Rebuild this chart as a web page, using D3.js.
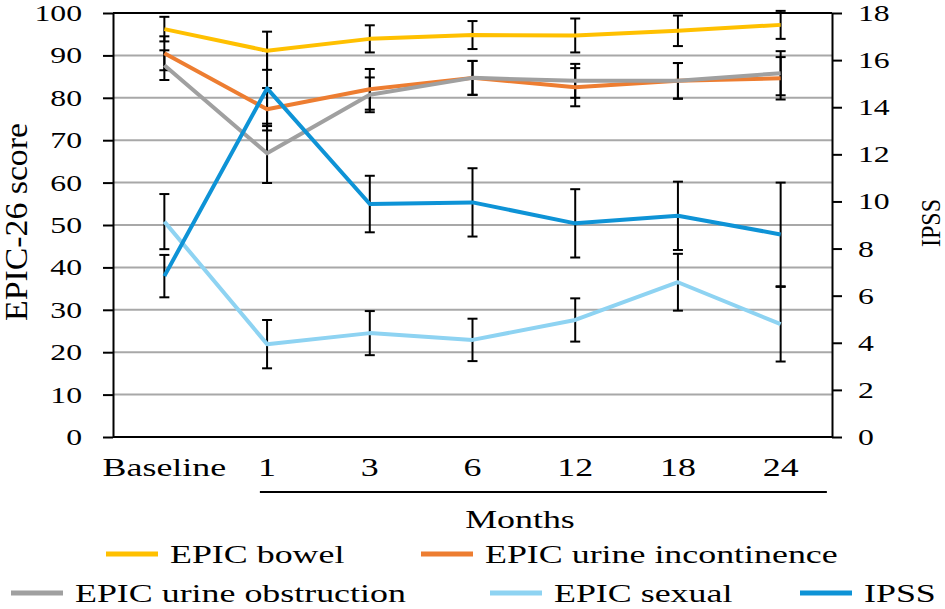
<!DOCTYPE html>
<html>
<head>
<meta charset="utf-8">
<script src="https://cdn.jsdelivr.net/npm/d3@7"></script>
<style>
body { margin: 0; background: #fff; }
text { font-family: "Liberation Serif", serif; fill: #000; }
</style>
</head>
<body>
<script>
// data
var months = ["Baseline", "1", "3", "6", "12", "18", "24"];
var epicTicks = [0, 10, 20, 30, 40, 50, 60, 70, 80, 90, 100];
var ipssTicks = [0, 2, 4, 6, 8, 10, 12, 14, 16, 18];

var bowel = [96.2, 91.1, 93.9, 94.8, 94.7, 95.8, 97.2];
var bowelErr = [2.9, 4.5, 3.2, 3.3, 4.0, 3.6, 3.3];
var incontinence = [90.5, 77.3, 82.0, 84.7, 82.5, 84.0, 84.6];
var incontinenceErr = [4.0, 5.0, 4.8, 4.0, 4.5, 4.2, 5.0];
var obstruction = [87.7, 66.9, 80.7, 84.7, 84.0, 84.0, 85.8];
var obstructionErr = [3.5, 7.0, 4.1, 4.0, 4.0, 4.2, 5.2];
var sexual = [50.8, 21.9, 24.5, 22.9, 27.6, 36.5, 26.6];
var sexualErr = [6.5, 5.7, 5.2, 5.0, 5.1, 6.7, 8.8];
var ipss = [6.83, 14.8, 9.89, 9.96, 9.07, 9.39, 8.6];
var ipssErr = [0.9, 1.6, 1.2, 1.45, 1.45, 1.45, 2.2];

var svg = d3.select('body').append('svg')
    .attr('width', 945)
    .attr('height', 609);

var x = d3.scalePoint().domain(months).range([113, 832]).padding(0.5);
var yL = d3.scaleLinear().domain([0, 100]).range([437, 13]);
var yR = d3.scaleLinear().domain([0, 18]).range([437, 13]);

var series = [
    {name: 'EPIC bowel', v: bowel, e: bowelErr, color: '#FFC000', y: yL},
    {name: 'EPIC urine incontinence', v: incontinence, e: incontinenceErr, color: '#ED7D31', y: yL},
    {name: 'EPIC urine obstruction', v: obstruction, e: obstructionErr, color: '#A0A0A0', y: yL},
    {name: 'EPIC sexual', v: sexual, e: sexualErr, color: '#8ED3F2', y: yL},
    {name: 'IPSS', v: ipss, e: ipssErr, color: '#0E93D6', y: yR}
];

// text looks wide in the picture, so stretch it sideways
function wideText(g, tx, ty, str, size, anchor) {
    return g.append('text')
        .attr('transform', 'translate(' + tx + ',' + ty + ') scale(1.38,1)')
        .attr('text-anchor', anchor)
        .style('font-size', size + 'px')
        .text(str);
}

// grid
svg.selectAll('.grid')
    .data(epicTicks.filter(function(d){ return d > 0 && d < 100; }))
    .enter()
    .append('line')
    .attr('x1', 113).attr('x2', 832)
    .attr('y1', function(d){ return yL(d); })
    .attr('y2', function(d){ return yL(d); })
    .attr('stroke', '#A8A8A8')
    .attr('stroke-width', 2);

// frame top + bottom
svg.append('line').attr('x1', 113).attr('x2', 832).attr('y1', yL(100)).attr('y2', yL(100))
    .attr('stroke', '#000').attr('stroke-width', 2);
svg.append('line').attr('x1', 113).attr('x2', 832).attr('y1', yL(0)).attr('y2', yL(0))
    .attr('stroke', '#000').attr('stroke-width', 2);

// axes
var left = svg.append('g').attr('transform', 'translate(113,0)')
    .call(d3.axisLeft(yL).tickValues(epicTicks).tickSize(10).tickSizeOuter(0).tickFormat(''));
var right = svg.append('g').attr('transform', 'translate(832,0)')
    .call(d3.axisRight(yR).tickValues(ipssTicks).tickSize(10).tickSizeOuter(0).tickFormat(''));
svg.selectAll('.domain').attr('stroke', '#000').attr('stroke-width', 2);
svg.selectAll('.tick line').attr('stroke', '#000').attr('stroke-width', 2);

epicTicks.forEach(function(t){
    wideText(svg, 82, yL(t) + 8, t, 23, 'end');
});
ipssTicks.forEach(function(t){
    wideText(svg, 858, yR(t) + 8, t, 23, 'start');
});
months.forEach(function(m){
    wideText(svg, x(m), 476, m, 26, 'middle');
});

// months bracket
var step = x.step();
svg.append('line')
    .attr('x1', x('1') - step * 0.07).attr('x2', x('24') + step * 0.45)
    .attr('y1', 492).attr('y2', 492)
    .attr('stroke', '#000').attr('stroke-width', 2);
wideText(svg, 520, 528, 'Months', 26, 'middle');

// axis titles
svg.append('text')
    .attr('transform', 'translate(27,222) rotate(-90)')
    .attr('text-anchor', 'middle')
    .attr('textLength', 198).attr('lengthAdjust', 'spacingAndGlyphs')
    .style('font-size', '31px')
    .text('EPIC-26 score');
svg.append('text')
    .attr('transform', 'translate(940,223) rotate(-90)')
    .attr('text-anchor', 'middle')
    .attr('textLength', 48).attr('lengthAdjust', 'spacingAndGlyphs')
    .style('font-size', '28px')
    .text('IPSS');

// error bars
series.forEach(function(s){
    var eb = svg.append('g');
    s.v.forEach(function(v, i){
        var cx = x(months[i]);
        var lo = s.y(v - s.e[i]), hi = s.y(v + s.e[i]);
        eb.append('line').attr('x1', cx).attr('x2', cx).attr('y1', lo).attr('y2', hi)
            .attr('stroke', '#000').attr('stroke-width', 2);
        [lo, hi].forEach(function(yy){
            eb.append('line').attr('x1', cx - 5).attr('x2', cx + 5).attr('y1', yy).attr('y2', yy)
                .attr('stroke', '#000').attr('stroke-width', 2);
        });
    });
});

// lines
series.forEach(function(s){
    var line = d3.line()
        .x(function(d, i){ return x(months[i]); })
        .y(function(d){ return s.y(d); });
    svg.append('path')
        .datum(s.v)
        .attr('d', line)
        .attr('fill', 'none')
        .attr('stroke', s.color)
        .attr('stroke-width', 4)
        .attr('stroke-linejoin', 'round');
});

// legend
var legendPos = [[106, 554], [421, 554], [11, 593], [490, 593], [800, 593]];
series.forEach(function(s, i){
    var p = legendPos[i];
    svg.append('line')
        .attr('x1', p[0]).attr('x2', p[0] + 52)
        .attr('y1', p[1]).attr('y2', p[1])
        .attr('stroke', s.color)
        .attr('stroke-width', 5);
    wideText(svg, p[0] + 64, p[1] + 9, s.name, 26, 'start');
});
</script>
</body>
</html>
